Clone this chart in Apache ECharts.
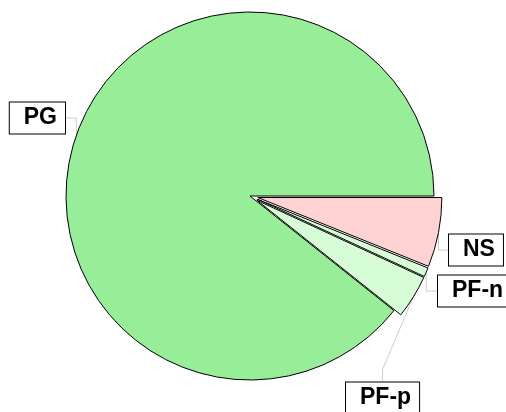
<!DOCTYPE html>
<html>
<head>
<meta charset="utf-8">
<script src="https://cdn.jsdelivr.net/npm/echarts@6/dist/echarts.min.js"></script>
<style>
  html, body { margin: 0; padding: 0; background: #fff; }
  #chart { width: 506px; height: 412px; }
</style>
</head>
<body>
<div id="chart"></div>
<script>
// 扇区名称和数值（百分比，按图估读）
const names = ['NS', 'PF-n', 'PF-p', 'PG'];
const values = [6.1, 0.8, 3.8, 89.3];
const colors = ['#ffd3d3', '#d6fdd6', '#d6fdd6', '#98ee98'];
// 分离出来的扇区偏移量（像素）
const explode = [8, 8, 8, 0];
// 标签位置（避让后的位置）
const labelX = [449, 438, 346, 65];
const labelY = [250, 291, 398, 118];

const cx = 250, cy = 196, radius = 184;
const total = values.reduce((a, b) => a + b, 0);

// 每个扇区单独一个系列，用偏移的圆心实现“炸开”效果
const series = [];
let acc = 0;
names.forEach((name, k) => {
  const mid = (acc + values[k] / 2) / total * 2 * Math.PI;
  acc += values[k];
  const ox = Math.cos(mid) * explode[k];
  const oy = Math.sin(mid) * explode[k];
  series.push({
    type: 'pie',
    center: [cx + ox, cy + oy],
    radius: radius,
    startAngle: 0,
    clockwise: true,
    selectedMode: false,
    avoidLabelOverlap: false,
    silent: true,
    z: k === 3 ? 1 : 2,
    label: {
      position: 'outside',
      overflow: 'none',
      fontFamily: 'Liberation Sans, Arial, sans-serif',
      fontWeight: 'bold',
      fontSize: 23,
      color: '#000',
      backgroundColor: '#fff',
      borderColor: '#000',
      borderWidth: 1,
      padding: [4, 8, 4, 14]
    },
    labelLine: {
      length: 10,
      length2: 12,
      lineStyle: { color: '#ccc', width: 1 }
    },
    labelLayout: function (params) {
      return {
        x: labelX[k],
        y: labelY[k],
        align: k === 3 ? 'right' : 'left',
        verticalAlign: 'middle'
      };
    },
    emphasis: { disabled: true },
    data: names.map((n, i) => ({
      name: n,
      value: values[i],
      itemStyle: i === k
        ? { color: colors[i], borderColor: '#000', borderWidth: 1 }
        : { color: 'rgba(0,0,0,0)', borderWidth: 0 },
      label: { show: i === k },
      labelLine: { show: i === k }
    }))
  });
});

const chart = echarts.init(document.getElementById('chart'));
chart.setOption({
  animation: false,
  series: series
});
</script>
</body>
</html>
